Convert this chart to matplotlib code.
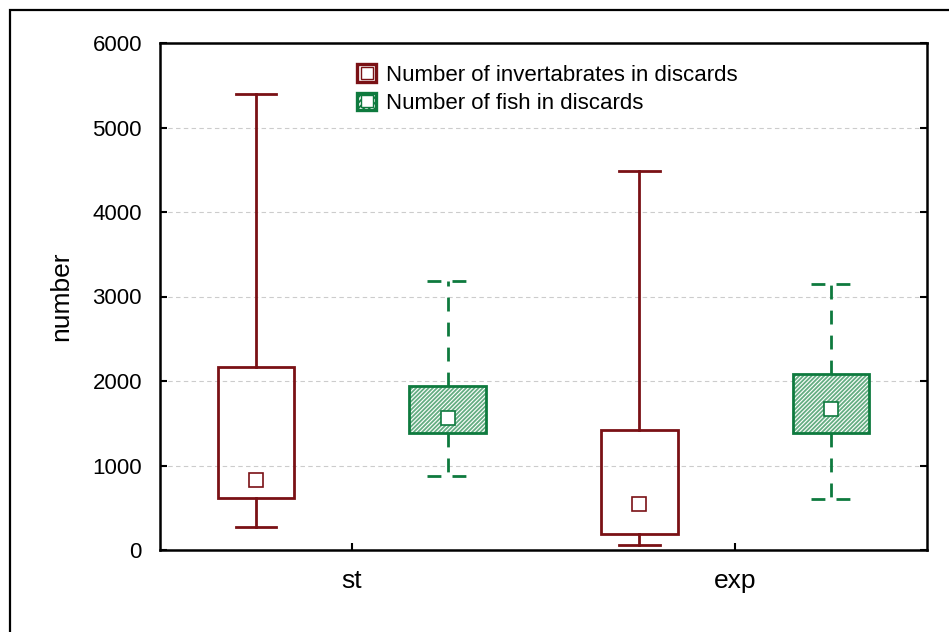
import matplotlib
matplotlib.use("Agg")
import matplotlib.pyplot as plt
from matplotlib.patches import Rectangle
from matplotlib.lines import Line2D
from matplotlib.legend_handler import HandlerTuple

plt.rcParams['font.family'] = ['Liberation Sans', 'DejaVu Sans']
plt.rcParams['hatch.linewidth'] = 1.3

categories = ["st", "exp"]
series_names = ["Number of invertabrates in discards", "Number of fish in discards"]

# per category: (whisker low, box low, centre marker, box high, whisker high)
invert_stats = [
    (272, 615, 830, 2170, 5400),
    (60, 190, 545, 1420, 4480),
]
fish_stats = [
    (880, 1385, 1560, 1940, 3180),
    (605, 1385, 1670, 2085, 3150),
]

yticks = [0, 1000, 2000, 3000, 4000, 5000, 6000]

red = "#7a1115"
green = "#0e7a3e"
hatch_green = "#64ad82"

fig = plt.figure(figsize=(9.49, 6.32), dpi=100)
ax = fig.add_axes([160/949, 1-550/632, (927-160)/949, (550-43)/632])

# outer frame around the figure
fig.patches.append(Rectangle((10/949, -0.1), 1.2, 0.1 + 1 - 10/632,
                             transform=fig.transFigure, fill=False,
                             edgecolor="black", linewidth=1.6, zorder=0))

offset = 0.25
width = 0.2


def make_bxp(stats, positions, color, dashed, hatched):
    bstats = []
    for lo, q1, mid, q3, hi in stats:
        bstats.append(dict(whislo=lo, q1=q1, med=mid, q3=q3, whishi=hi, mean=mid, fliers=[]))
    ls = (0, (5, 4)) if dashed else "-"
    if hatched:
        for (lo, q1, mid, q3, hi), p in zip(stats, positions):
            ax.add_patch(Rectangle((p - width/2, q1), width, q3 - q1,
                                   facecolor="white", edgecolor=hatch_green,
                                   hatch="////////", linewidth=0, zorder=2))
    ax.bxp(bstats, positions=positions, widths=width, showmeans=True,
           patch_artist=True, manage_ticks=False,
           boxprops=dict(facecolor="none", edgecolor=color, linewidth=2.0),
           whiskerprops=dict(color=color, linewidth=2.0, linestyle=ls),
           capprops=dict(color=color, linewidth=2.0, linestyle=ls),
           capwidths=0.105,
           medianprops=dict(visible=False),
           meanprops=dict(marker="s", markersize=10, markerfacecolor="white",
                          markeredgecolor=color, markeredgewidth=1.2),
           zorder=3)


x = list(range(len(categories)))
make_bxp(invert_stats, [i - offset for i in x], red, False, False)
make_bxp(fish_stats, [i + offset for i in x], green, True, True)

ax.set_xlim(-0.5, 1.5)
ax.set_ylim(0, 6000)
ax.set_xticks(x)
ax.set_xticklabels(categories, fontsize=19)
ax.set_yticks(yticks)
ax.set_yticklabels([str(v) for v in yticks], fontsize=16)
ax.tick_params(axis="both", direction="in", length=5, width=1.5, top=False, right=True)
ax.tick_params(axis="x", pad=14)
ax.tick_params(axis="y", pad=13)
ax.yaxis.grid(True, linestyle=(0, (4, 3)), color="#cccccc", linewidth=0.8)
ax.set_axisbelow(True)
for s in ax.spines.values():
    s.set_linewidth(1.8)
ax.set_ylabel("number", fontsize=19, labelpad=14)

# legend handles: coloured square with a small white square inside
h1 = (Rectangle((0, 0), 1, 1, facecolor="white", edgecolor=red, linewidth=2.4),
      Line2D([], [], marker="s", linestyle="none", markersize=8,
             markerfacecolor="white", markeredgecolor=red, markeredgewidth=1.0))
h2 = (Rectangle((0, 0), 1, 1, facecolor="white", edgecolor=green, linewidth=2.4,
                hatch="//////"),
      Line2D([], [], marker="s", linestyle="none", markersize=8,
             markerfacecolor="white", markeredgecolor=green, markeredgewidth=1.0))
leg = ax.legend([h1, h2], series_names, handler_map={tuple: HandlerTuple(ndivide=1, pad=0)},
                loc="upper left", bbox_to_anchor=(0.257, 0.958), frameon=False,
                fontsize=16, handlelength=0.85, handleheight=0.85, handletextpad=0.45,
                labelspacing=0.3, borderaxespad=0, borderpad=0)

fig.savefig("out.png", dpi=100)
